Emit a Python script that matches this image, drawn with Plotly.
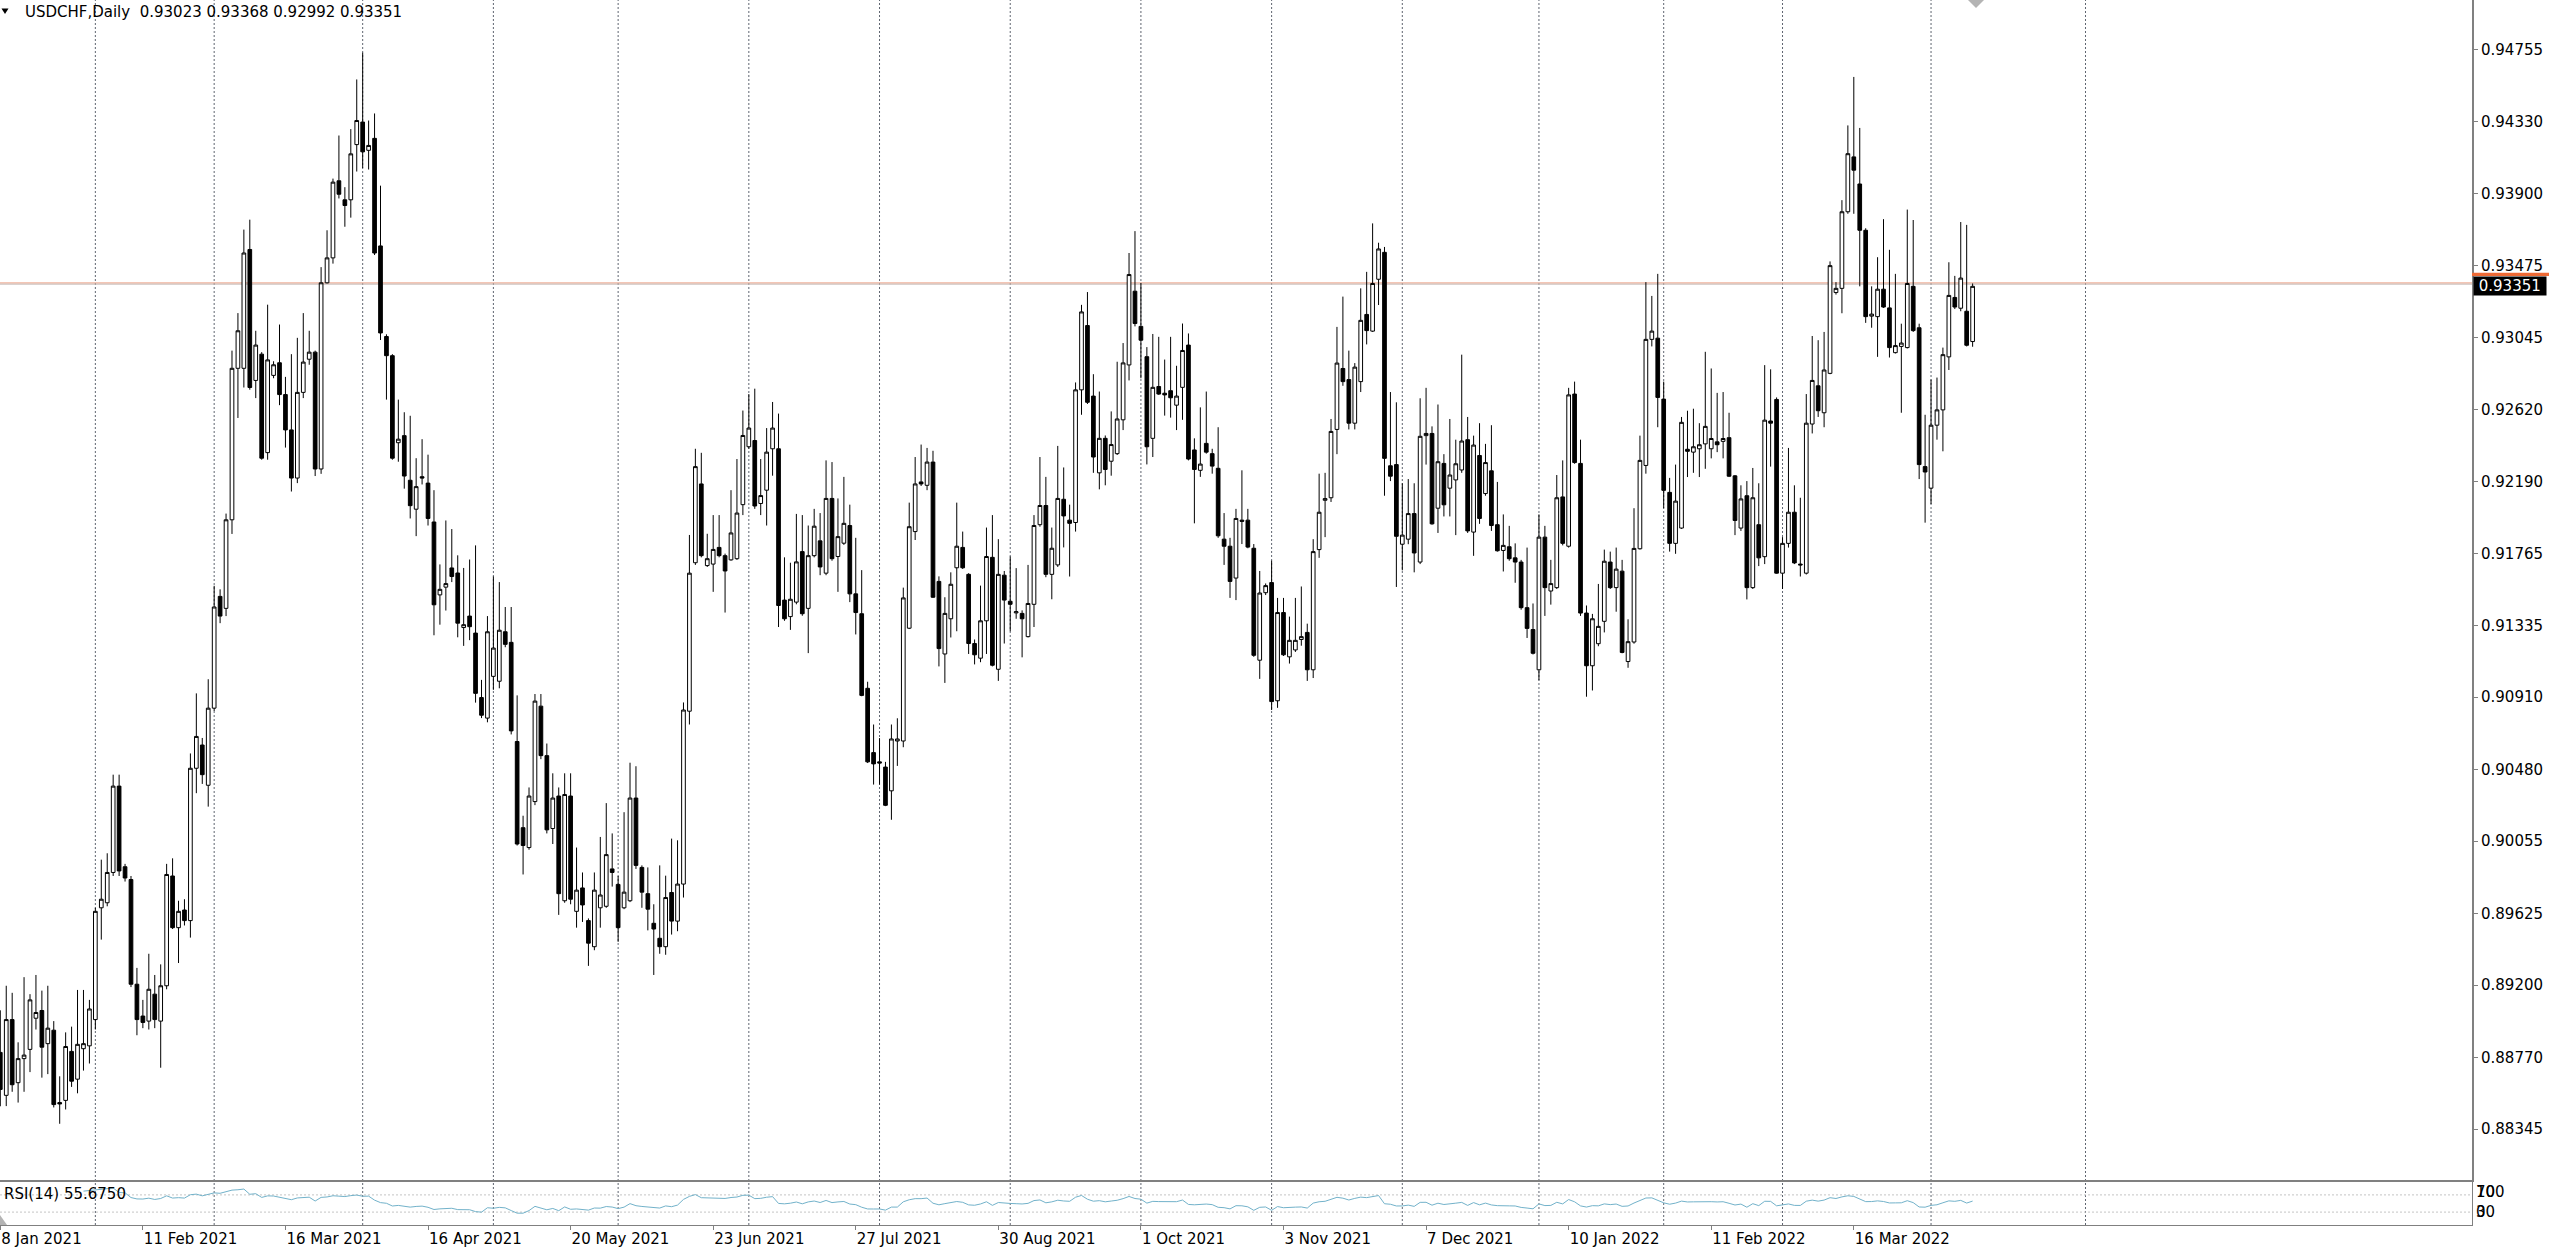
import pandas as pd
import plotly.graph_objects as go

# ---------------- data ----------------
opens = [
    0.88800,
    0.88545, 0.88995, 0.88620, 0.88763, 0.88818, 0.89003, 0.89049, 0.88852, 0.88932, 0.88502,
    0.88515, 0.88806, 0.88641, 0.88822, 0.88839, 0.88995, 0.89659, 0.89689, 0.89869, 0.90382,
    0.89903, 0.89827, 0.89205, 0.89016, 0.88986, 0.89146, 0.88986, 0.89196, 0.89848, 0.89541,
    0.89646, 0.89583, 0.90488, 0.90626, 0.90387, 0.90845, 0.91509, 0.91438, 0.91964, 0.92864,
    0.92864, 0.93570, 0.92792, 0.92948, 0.92363, 0.92822, 0.92897, 0.92708, 0.92498, 0.92212,
    0.92721, 0.92918, 0.92960, 0.92266, 0.93372, 0.93520, 0.93978, 0.93865, 0.93865, 0.94193,
    0.94327, 0.94159, 0.94230, 0.93591, 0.93053, 0.92939, 0.92422, 0.92464, 0.92199, 0.92027,
    0.92220, 0.92182, 0.91951, 0.91518, 0.91564, 0.91678, 0.91648, 0.91324, 0.91392, 0.91291,
    0.90908, 0.90786, 0.91034, 0.91005, 0.91299, 0.91236, 0.90647, 0.90135, 0.90017, 0.90290,
    0.90857, 0.90563, 0.90130, 0.90323, 0.89701, 0.90323, 0.89638, 0.89777, 0.89583, 0.89428,
    0.89659, 0.89668, 0.89890, 0.89798, 0.89659, 0.89701, 0.90311, 0.89899, 0.89743, 0.89567,
    0.89478,
    0.89428, 0.89750, 0.89580, 0.89800,
    0.90827, 0.91709, 0.92177, 0.91692, 0.91701, 0.91800, 0.91751, 0.91726, 0.91733, 0.92054,
    0.92398, 0.92435, 0.92061, 0.92140, 0.92386, 0.92386, 0.91487, 0.91389, 0.91475, 0.91775,
    0.91438, 0.91751, 0.91839, 0.91647, 0.92091, 0.91746, 0.91825, 0.91930, 0.91524, 0.91406,
    0.90963, 0.90581, 0.90526, 0.90495, 0.90354, 0.90650, 0.90650, 0.91320, 0.91894, 0.92189,
    0.92169, 0.92307, 0.91598, 0.91167, 0.91376, 0.91679, 0.91800, 0.91640, 0.91229, 0.91142,
    0.91364, 0.91741, 0.91076, 0.91635, 0.91480, 0.91411, 0.91408, 0.91270, 0.91462, 0.91935,
    0.92049, 0.91640, 0.91696, 0.92086, 0.91962, 0.91948, 0.92736, 0.93118, 0.92699, 0.92243,
    0.92448, 0.92312, 0.92357, 0.92558, 0.92884, 0.93322, 0.93113, 0.92933, 0.92448, 0.92756,
    0.92716, 0.92731, 0.92645, 0.92751, 0.93002, 0.92379, 0.92258, 0.92418, 0.92357, 0.92270,
    0.91849, 0.91807, 0.91618, 0.91962, 0.91962, 0.91795, 0.91130, 0.91531, 0.91591, 0.90889,
    0.91413, 0.91150, 0.91191, 0.91253, 0.91295,
    0.91073, 0.91787, 0.92080, 0.92095, 0.92501, 0.92863, 0.92797, 0.92538, 0.92785, 0.93184,
    0.93085, 0.93393, 0.93553, 0.92285, 0.92292, 0.91819, 0.91849, 0.92001, 0.91713, 0.92464,
    0.92477, 0.92033, 0.92299, 0.92152, 0.92201, 0.92260, 0.92440, 0.91891, 0.92346, 0.92120,
    0.92255, 0.91935, 0.91782, 0.91804, 0.91738, 0.91713, 0.91442, 0.91312, 0.91073, 0.91861,
    0.91541, 0.91561, 0.92100, 0.91807, 0.92711, 0.92299, 0.91410, 0.91097, 0.91228, 0.91361,
    0.91713, 0.91561, 0.91659, 0.91122, 0.91238, 0.91792, 0.92287, 0.93036, 0.93043, 0.92681,
    0.92127, 0.91824, 0.91915, 0.92383, 0.92366, 0.92386, 0.92415, 0.92386, 0.92427, 0.92430,
    0.92452, 0.92225, 0.91915, 0.92107, 0.91561, 0.91935, 0.91745, 0.92551, 0.92679, 0.91647,
    0.91824, 0.92009, 0.91701, 0.91647, 0.92533, 0.92760, 0.92600, 0.92834, 0.93314, 0.93339,
    0.93794, 0.94120, 0.93959, 0.93684, 0.93174, 0.93171, 0.93334, 0.93223, 0.92957, 0.92994,
    0.92987, 0.93351, 0.93105, 0.92280, 0.92152, 0.92526, 0.92617, 0.92932, 0.93285, 0.93221,
    0.93203, 0.93023,
]

highs = [
    0.89050,
    0.89196, 0.89154, 0.88860, 0.89247, 0.89146, 0.89260, 0.89167, 0.89196, 0.88986, 0.88658,
    0.88919, 0.88953, 0.89171, 0.89171, 0.89112, 0.89659, 0.89945, 0.89983, 0.90450, 0.90450,
    0.89920, 0.89848, 0.89302, 0.89112, 0.89386, 0.89260, 0.89323, 0.89920, 0.89953, 0.89701,
    0.89710, 0.90576, 0.90933, 0.90668, 0.91017, 0.91572, 0.91551, 0.92001, 0.92969, 0.93192,
    0.93688, 0.93747, 0.93087, 0.92960, 0.93242, 0.92906, 0.93124, 0.92813, 0.92948, 0.93045,
    0.93192, 0.93087, 0.92969, 0.93465, 0.93684, 0.93991, 0.94247, 0.93940, 0.94285, 0.94580,
    0.94739, 0.94336, 0.94378, 0.93949, 0.93066, 0.92948, 0.92678, 0.92603, 0.92582, 0.92330,
    0.92443, 0.92351, 0.92140, 0.91699, 0.91960, 0.91909, 0.91753, 0.91678, 0.91728, 0.91812,
    0.91013, 0.91392, 0.91627, 0.91594, 0.91446, 0.91446, 0.90921, 0.90206, 0.90374, 0.90929,
    0.90929, 0.90635, 0.90458, 0.90374, 0.90458, 0.90458, 0.90017, 0.89869, 0.89596, 0.89869,
    0.90080, 0.90281, 0.90101, 0.89848, 0.90227, 0.90521, 0.90500, 0.89911, 0.89899, 0.89680,
    0.89911,
    0.89850, 0.90070, 0.90060, 0.90879,
    0.91874, 0.92386, 0.92362, 0.91881, 0.91992, 0.91992, 0.91763, 0.92140, 0.92325, 0.92613,
    0.92711, 0.92743, 0.92325, 0.92509, 0.92664, 0.92595, 0.91741, 0.91709, 0.91999, 0.91992,
    0.91930, 0.92029, 0.92004, 0.92317, 0.92307, 0.92091, 0.92219, 0.92054, 0.91857, 0.91665,
    0.91002, 0.90748, 0.90667, 0.90526, 0.90748, 0.90785, 0.91561, 0.92066, 0.92337, 0.92411,
    0.92391, 0.92374, 0.91628, 0.91504, 0.91652, 0.92066, 0.91894, 0.91647, 0.91253, 0.91573,
    0.91918, 0.91992, 0.91849, 0.91660, 0.91746, 0.91677, 0.91426, 0.91696, 0.91992, 0.92337,
    0.92219, 0.91918, 0.92403, 0.92275, 0.92054, 0.92780, 0.93241, 0.93317, 0.92829, 0.92726,
    0.92465, 0.92608, 0.92903, 0.93014, 0.93549, 0.93679, 0.93371, 0.92990, 0.93068, 0.93051,
    0.92916, 0.93051, 0.92879, 0.93130, 0.93071, 0.92448, 0.92632, 0.92726, 0.92386, 0.92514,
    0.92004, 0.91857, 0.92029, 0.92258, 0.92029, 0.91820, 0.91660, 0.91586, 0.91721, 0.91500,
    0.91500, 0.91389, 0.91500, 0.91568, 0.91347,
    0.91849, 0.92238, 0.92243, 0.92563, 0.93110, 0.93290, 0.92969, 0.92895, 0.93339, 0.93437,
    0.93725, 0.93610, 0.93585, 0.92723, 0.92662, 0.92181, 0.92206, 0.92181, 0.92686, 0.92748,
    0.92519, 0.92649, 0.92354, 0.92563, 0.92440, 0.92945, 0.92575, 0.92464, 0.92538, 0.92415,
    0.92526, 0.92189, 0.91996, 0.91928, 0.91824, 0.91726, 0.91799, 0.91467, 0.91996, 0.91928,
    0.91726, 0.92230, 0.92317, 0.92748, 0.92785, 0.92440, 0.91455, 0.91405, 0.91583, 0.91787,
    0.91775, 0.91799, 0.91726, 0.91373, 0.92033, 0.92464, 0.93376, 0.93294, 0.93425, 0.92785,
    0.92213, 0.92292, 0.92575, 0.92612, 0.92624, 0.92538, 0.92962, 0.92863, 0.92718, 0.92723,
    0.92600, 0.92230, 0.92169, 0.92194, 0.92272, 0.92181, 0.92883, 0.92858, 0.92691, 0.91861,
    0.92391, 0.92169, 0.92095, 0.92711, 0.93056, 0.93031, 0.93080, 0.93499, 0.93376, 0.93863,
    0.94307, 0.94595, 0.94292, 0.93696, 0.93351, 0.93524, 0.93750, 0.93568, 0.93425, 0.93129,
    0.93807, 0.93745, 0.93129, 0.92588, 0.92797, 0.92809, 0.92987, 0.93494, 0.93413, 0.93733,
    0.93716, 0.93368,
]

lows = [
    0.88480,
    0.88481, 0.88566, 0.88502, 0.88566, 0.88683, 0.88936, 0.88650, 0.88671, 0.88473, 0.88376,
    0.88461, 0.88595, 0.88557, 0.88692, 0.88734, 0.88936, 0.89470, 0.89668, 0.89848, 0.89848,
    0.89815, 0.89188, 0.88902, 0.88944, 0.88936, 0.88944, 0.88709, 0.89175, 0.89533, 0.89331,
    0.89554, 0.89482, 0.90340, 0.90395, 0.90260, 0.90828, 0.91350, 0.91392, 0.91880, 0.92569,
    0.92750, 0.92737, 0.92687, 0.92321, 0.92321, 0.92805, 0.92645, 0.92393, 0.92132, 0.92182,
    0.92687, 0.92885, 0.92224, 0.92237, 0.93368, 0.93486, 0.93873, 0.93705, 0.93759, 0.94033,
    0.94054, 0.94045, 0.93537, 0.93032, 0.92678, 0.92321, 0.92309, 0.92149, 0.91972, 0.91867,
    0.92174, 0.91930, 0.91278, 0.91341, 0.91425, 0.91594, 0.91266, 0.91215, 0.91249, 0.90878,
    0.90786, 0.90761, 0.90954, 0.90963, 0.91207, 0.90689, 0.90029, 0.89857, 0.90004, 0.90269,
    0.90542, 0.90101, 0.90038, 0.89617, 0.89689, 0.89680, 0.89541, 0.89575, 0.89314, 0.89407,
    0.89541, 0.89659, 0.89785, 0.89457, 0.89651, 0.89693, 0.89890, 0.89659, 0.89525, 0.89260,
    0.89386,
    0.89380, 0.89500, 0.89520, 0.89720,
    0.90748, 0.91696, 0.91741, 0.91684, 0.91536, 0.91741, 0.91413, 0.91721, 0.91726, 0.91992,
    0.92386, 0.92029, 0.91992, 0.91930, 0.92226, 0.91327, 0.91364, 0.91310, 0.91462, 0.91394,
    0.91172, 0.91741, 0.91635, 0.91635, 0.91721, 0.91536, 0.91815, 0.91475, 0.91283, 0.90916,
    0.90519, 0.90391, 0.90391, 0.90263, 0.90182, 0.90502, 0.90613, 0.91315, 0.91844, 0.92165,
    0.92140, 0.91500, 0.91093, 0.90995, 0.91265, 0.91302, 0.91672, 0.91167, 0.91105, 0.91118,
    0.91167, 0.91093, 0.91007, 0.91229, 0.91302, 0.91376, 0.91147, 0.91265, 0.91327, 0.91923,
    0.91623, 0.91492, 0.91684, 0.91800, 0.91627, 0.91894, 0.92588, 0.92652, 0.92243, 0.92145,
    0.92169, 0.92226, 0.92349, 0.92497, 0.92792, 0.93113, 0.92805, 0.92293, 0.92337, 0.92706,
    0.92583, 0.92571, 0.92497, 0.92558, 0.92317, 0.91943, 0.92219, 0.92357, 0.92238, 0.91857,
    0.91696, 0.91500, 0.91487, 0.91820, 0.91795, 0.91150, 0.91019, 0.91517, 0.90834, 0.90847,
    0.91155, 0.91110, 0.91179, 0.91216, 0.91007,
    0.91024, 0.91738, 0.91861, 0.92070, 0.92354, 0.92760, 0.92501, 0.92501, 0.92723, 0.93006,
    0.93080, 0.93240, 0.92107, 0.92194, 0.91565, 0.91664, 0.91819, 0.91652, 0.91701, 0.92292,
    0.91935, 0.91886, 0.91984, 0.91984, 0.91873, 0.92243, 0.91886, 0.91750, 0.91940, 0.92107,
    0.91898, 0.91775, 0.91657, 0.91721, 0.91590, 0.91430, 0.91262, 0.91164, 0.91011, 0.91393,
    0.91460, 0.91553, 0.91812, 0.91799, 0.92297, 0.91393, 0.90913, 0.90950, 0.91213, 0.91295,
    0.91553, 0.91418, 0.91171, 0.91085, 0.91228, 0.91787, 0.92238, 0.92994, 0.92514, 0.92033,
    0.91775, 0.91762, 0.91910, 0.92218, 0.92243, 0.92218, 0.92267, 0.92329, 0.92366, 0.92329,
    0.92218, 0.91873, 0.91898, 0.91491, 0.91553, 0.91689, 0.91701, 0.92280, 0.91644, 0.91553,
    0.91799, 0.91701, 0.91627, 0.91639, 0.92477, 0.92575, 0.92514, 0.92829, 0.93302, 0.93191,
    0.93782, 0.93782, 0.93351, 0.93134, 0.93105, 0.92932, 0.93223, 0.92928, 0.92952, 0.92600,
    0.92982, 0.93080, 0.92206, 0.91947, 0.92058, 0.92440, 0.92371, 0.92854, 0.93216, 0.93203,
    0.92994, 0.92992,
]

closes = [
    0.88580,
    0.88995, 0.88608, 0.88763, 0.88784, 0.89112, 0.89037, 0.88831, 0.88944, 0.88490, 0.88494,
    0.88835, 0.88629, 0.88848, 0.88852, 0.89058, 0.89638, 0.89710, 0.89869, 0.90382, 0.89878,
    0.89836, 0.89205, 0.88995, 0.88978, 0.89175, 0.88995, 0.89196, 0.89857, 0.89541, 0.89638,
    0.89583, 0.90488, 0.90677, 0.90450, 0.90845, 0.91446, 0.91392, 0.91964, 0.92864, 0.93087,
    0.93549, 0.92750, 0.93002, 0.92330, 0.92914, 0.92885, 0.92708, 0.92498, 0.92212, 0.92721,
    0.92901, 0.92960, 0.92266, 0.93372, 0.93520, 0.93970, 0.93898, 0.93831, 0.94138, 0.94336,
    0.94150, 0.94188, 0.93549, 0.93074, 0.92939, 0.92330, 0.92443, 0.92224, 0.92048, 0.92161,
    0.92212, 0.91972, 0.91459, 0.91551, 0.91585, 0.91627, 0.91350, 0.91341, 0.91329, 0.90933,
    0.90803, 0.91299, 0.91202, 0.91308, 0.91224, 0.90710, 0.90038, 0.90029, 0.90323, 0.90887,
    0.90563, 0.90122, 0.90311, 0.89743, 0.90332, 0.89710, 0.89764, 0.89676, 0.89449, 0.89764,
    0.89735, 0.89975, 0.89869, 0.89541, 0.89752, 0.90311, 0.89911, 0.89752, 0.89651, 0.89533,
    0.89428,
    0.89720, 0.89580, 0.89800, 0.90834,
    0.91647, 0.92280, 0.91751, 0.91733, 0.91788, 0.91751, 0.91660, 0.91886, 0.92004, 0.92465,
    0.92509, 0.92046, 0.92108, 0.92366, 0.92509, 0.91455, 0.91376, 0.91492, 0.91714, 0.91406,
    0.91751, 0.91926, 0.91684, 0.92091, 0.91733, 0.91864, 0.91943, 0.91524, 0.91413, 0.90921,
    0.90526, 0.90514, 0.90519, 0.90268, 0.90662, 0.90662, 0.91500, 0.91923, 0.92177, 0.92177,
    0.92307, 0.91504, 0.91199, 0.91408, 0.91581, 0.91807, 0.91679, 0.91229, 0.91162, 0.91364,
    0.91746, 0.91100, 0.91640, 0.91487, 0.91462, 0.91418, 0.91376, 0.91467, 0.91930, 0.92049,
    0.91640, 0.91795, 0.92091, 0.91987, 0.91943, 0.92736, 0.93199, 0.92662, 0.92337, 0.92448,
    0.92263, 0.92411, 0.92563, 0.92896, 0.93421, 0.93130, 0.93031, 0.92398, 0.92751, 0.92711,
    0.92706, 0.92689, 0.92699, 0.92970, 0.92325, 0.92263, 0.92295, 0.92366, 0.92283, 0.91869,
    0.91807, 0.91598, 0.91972, 0.91955, 0.91802, 0.91159, 0.91529, 0.91573, 0.90884, 0.91413,
    0.91162, 0.91248, 0.91248, 0.91270, 0.91073,
    0.91775, 0.92009, 0.92090, 0.92489, 0.92895, 0.92785, 0.92538, 0.92871, 0.93149, 0.93088,
    0.93368, 0.93573, 0.92329, 0.92223, 0.91866, 0.91873, 0.92001, 0.91767, 0.92460, 0.92477,
    0.91940, 0.92309, 0.92053, 0.92230, 0.92297, 0.92432, 0.91898, 0.92408, 0.91972, 0.92304,
    0.91930, 0.91780, 0.91812, 0.91733, 0.91713, 0.91442, 0.91319, 0.91171, 0.91861, 0.91561,
    0.91585, 0.92095, 0.91824, 0.92706, 0.92304, 0.91410, 0.91097, 0.91376, 0.91331, 0.91718,
    0.91561, 0.91671, 0.91176, 0.91240, 0.91794, 0.92317, 0.93036, 0.93085, 0.92691, 0.92139,
    0.91824, 0.92075, 0.92543, 0.92371, 0.92398, 0.92410, 0.92519, 0.92447, 0.92410, 0.92447,
    0.92223, 0.91960, 0.92088, 0.91561, 0.92095, 0.91738, 0.92556, 0.92538, 0.91647, 0.91824,
    0.92009, 0.91708, 0.91696, 0.92538, 0.92792, 0.92612, 0.92854, 0.93474, 0.93339, 0.93794,
    0.94139, 0.94041, 0.93684, 0.93171, 0.93186, 0.93334, 0.93228, 0.92987, 0.92999, 0.93014,
    0.93368, 0.93088, 0.92292, 0.92248, 0.92526, 0.92617, 0.92945, 0.93297, 0.93228, 0.93400,
    0.93001, 0.93351,
]

date_labels = ["8 Jan 2021", "11 Feb 2021", "16 Mar 2021", "16 Apr 2021", "20 May 2021",
               "23 Jun 2021", "27 Jul 2021", "30 Aug 2021", "1 Oct 2021", "3 Nov 2021",
               "7 Dec 2021", "10 Jan 2022", "11 Feb 2022", "16 Mar 2022"]
bars_per_date_label = 24
month_start_bars = [16, 36, 61, 83, 104, 126, 148, 170, 192, 214, 236, 259, 280, 300, 325, 351]
price_ticks = [0.94755, 0.94330, 0.93900, 0.93475, 0.93045, 0.92620, 0.92190, 0.91765,
               0.91335, 0.90910, 0.90480, 0.90055, 0.89625, 0.89200, 0.88770, 0.88345]
symbol_caption = "USDCHF,Daily"
last_bar = [0.93023, 0.93368, 0.92992, 0.93351]
bid_price = 0.93351
price_line_levels = [0.93371, 0.93364]
rsi_period = 14
rsi_caption = "RSI(14) 55.6750"
rsi_levels = [70, 30]

# ---------------- derived ----------------
n = len(closes)
xs = list(range(n))
s = pd.Series(closes)
d = s.diff()
avg_gain = d.clip(lower=0).ewm(alpha=1 / rsi_period, adjust=False, min_periods=rsi_period).mean()
avg_loss = (-d.clip(upper=0)).ewm(alpha=1 / rsi_period, adjust=False, min_periods=rsi_period).mean()
rsi = 100 - 100 / (1 + avg_gain / avg_loss)

# ---------------- layout geometry ----------------
W, H = 2560, 1250
ML, MR, MT, MB = 0, 88, 0, 25
PW, PH = W - ML - MR, H - MT - MB          # 2472 x 1225
main_bottom = (PH - 1180) / PH
rsi_top = (PH - 1182) / PH
x_range = [-0.05, 416.06]
y_range = [0.88042, 0.95052]

GRID = "#5f6570"
AXIS = "#808080"

fig = go.Figure()
fig.add_trace(go.Candlestick(
    x=xs, open=opens, high=highs, low=lows, close=closes,
    increasing=dict(line=dict(color="#000000", width=1), fillcolor="#FFFFFF"),
    decreasing=dict(line=dict(color="#000000", width=1), fillcolor="#000000"),
    whiskerwidth=0, hoverinfo="skip", xaxis="x", yaxis="y", showlegend=False))
fig.add_trace(go.Scatter(
    x=xs, y=rsi, mode="lines", line=dict(color="#72B2CA", width=1),
    hoverinfo="skip", xaxis="x2", yaxis="y2", showlegend=False))

shapes = []
for b in month_start_bars:
    shapes.append(dict(type="line", xref="x", yref="paper", x0=b, x1=b, y0=0, y1=1,
                       line=dict(color=GRID, width=1, dash="2px,2px"), layer="below"))
for lv in rsi_levels:
    shapes.append(dict(type="line", xref="paper", yref="y2", x0=0, x1=1, y0=lv, y1=lv,
                       line=dict(color="#c4c4c4", width=1, dash="2px,2px"), layer="below"))
line_colors = ["#E9967A", "#C4B8B4"]
for lv, c in zip(price_line_levels, line_colors):
    shapes.append(dict(type="line", xref="paper", yref="y", x0=0, x1=1, y0=lv, y1=lv,
                       line=dict(color=c, width=1), layer="below"))
# orange marker strip on the price scale (top of hidden label)
shapes.append(dict(type="rect", xref="paper", yref="y", x0=1.0, x1=1 + 77 / PW,
                   y0=0.93412, y1=0.93432, fillcolor="#EE6A35", line=dict(width=0)))
# small black triangle before caption
shapes.append(dict(type="path", xref="paper", yref="paper",
                   path=f"M {1.5/PW},{1-8.5/PH} L {8.5/PW},{1-8.5/PH} L {5/PW},{1-14/PH} Z",
                   fillcolor="#000000", line=dict(width=0)))
# chart-shift marker at top
cx = 1976 / PW
shapes.append(dict(type="path", xref="paper", yref="paper",
                   path=f"M {cx-8/PW},1 L {cx+8/PW},1 L {cx},{1-8/PH} Z",
                   fillcolor="#B4B4B4", line=dict(width=0)))
# scroll marker at bottom-left of the RSI window
shapes.append(dict(type="path", xref="paper", yref="paper",
                   path=f"M 0,{10/PH} L {7/PW},0 L 0,0 Z",
                   fillcolor="#B4B4B4", line=dict(width=0)))

annotations = [
    dict(xref="paper", yref="paper", x=23 / PW, y=1 - 12 / PH, xanchor="left", yanchor="middle",
         text=symbol_caption + "\u00a0\u00a0" + " ".join(f"{v:.5f}" for v in last_bar),
         showarrow=False, font=dict(size=15, color="#000000")),
    dict(xref="paper", yref="paper", x=2 / PW, y=(PH - 1194) / PH, xanchor="left", yanchor="middle",
         text=rsi_caption, showarrow=False, font=dict(size=15, color="#000000")),
    dict(xref="paper", yref="y", x=1.0, y=bid_price, xanchor="left", yanchor="middle", xshift=1,
         text="\u00a0" + f"{bid_price:.5f}" + "\u00a0", showarrow=False, bgcolor="#000000",
         borderpad=0, font=dict(size=15, color="#FFFFFF")),
]
for txt, ypx in [("100", 1192), ("70", 1192), ("30", 1212), ("0", 1212)]:
    annotations.append(dict(xref="paper", yref="paper", x=1.0, y=(PH - ypx) / PH, xshift=2,
                            xanchor="left", yanchor="middle", text=txt, showarrow=False,
                            font=dict(size=15, color="#000000")))

fig.update_layout(
    width=W, height=H, margin=dict(l=ML, r=MR, t=MT, b=MB, pad=0),
    paper_bgcolor="#FFFFFF", plot_bgcolor="#FFFFFF",
    font=dict(family="DejaVu Sans", size=15, color="#000000"),
    showlegend=False, boxgap=0.38, boxgroupgap=0, hovermode=False,
    xaxis=dict(domain=[0, 1], range=x_range, anchor="y", showgrid=False, zeroline=False,
               showticklabels=False, ticks="", showline=True, linecolor=AXIS, linewidth=2,
               rangeslider=dict(visible=False), fixedrange=True),
    yaxis=dict(domain=[main_bottom, 1], range=y_range, side="right", anchor="x",
               showgrid=False, zeroline=False, tickvals=price_ticks,
               ticktext=[f"{v:.5f}" for v in price_ticks], ticks="outside", ticklen=4,
               tickcolor=AXIS, showline=True, linecolor=AXIS, linewidth=2,
               tickfont=dict(size=15, color="#000000"), fixedrange=True),
    xaxis2=dict(domain=[0, 1], range=x_range, anchor="y2", showgrid=False, zeroline=False,
                tickvals=[i * bars_per_date_label for i in range(len(date_labels))],
                ticktext=date_labels, ticks="outside", ticklen=4, tickcolor=AXIS,
                ticklabelposition="outside right", showline=True, mirror=True,
                linecolor=AXIS, linewidth=1, tickfont=dict(size=15, color="#000000"),
                fixedrange=True),
    yaxis2=dict(domain=[0, rsi_top], range=[0, 100], side="right", anchor="x2",
                showgrid=False, zeroline=False, showticklabels=False, ticks="",
                showline=True, linecolor=AXIS, linewidth=1, fixedrange=True),
    shapes=shapes, annotations=annotations,
)

fig.write_html("out.html", config={"displayModeBar": False, "staticPlot": True},
               post_script="document.body.style.margin='0';document.body.style.overflow='hidden';")
